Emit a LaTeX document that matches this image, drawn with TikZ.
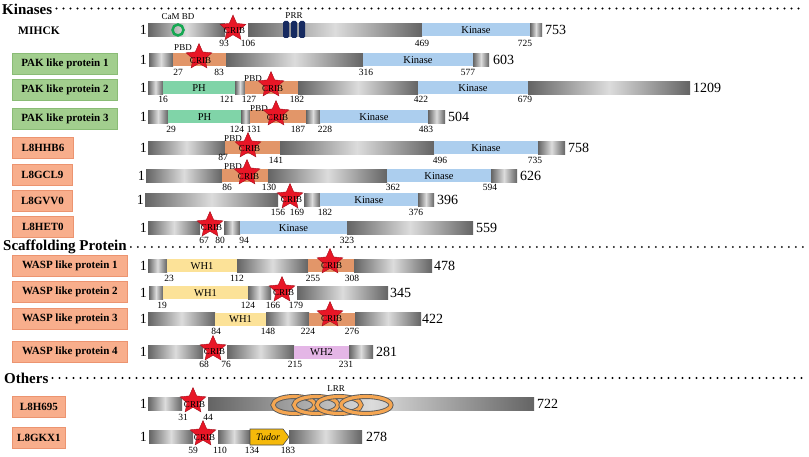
\documentclass[tikz,border=0pt]{standalone}
\usepackage{fontspec}
\setmainfont{Liberation Serif}
\usetikzlibrary{shapes.geometric}

\definecolor{bardark}{RGB}{100,100,100}
\definecolor{barlight}{RGB}{220,220,220}
\definecolor{kinblue}{RGB}{172,206,238}
\definecolor{pbdorange}{RGB}{226,150,105}
\definecolor{phgreen}{RGB}{128,212,168}
\definecolor{whyellow}{RGB}{252,226,152}
\definecolor{whpink}{RGB}{228,182,230}
\definecolor{tudoryellow}{RGB}{245,185,10}
\definecolor{prrnavy}{RGB}{22,42,96}
\definecolor{camgreen}{RGB}{22,168,82}
\definecolor{starred}{RGB}{232,22,38}
\definecolor{lrrorange}{RGB}{245,166,82}
\definecolor{pakgreen}{RGB}{162,206,142}
\definecolor{pakedge}{RGB}{138,188,118}
\definecolor{l8orange}{RGB}{248,174,140}
\definecolor{l8edge}{RGB}{236,148,112}

\tikzset{
  greyseg/.style={left color=bardark, right color=bardark, middle color=barlight},
  kinfill/.style={fill=kinblue},
  pbdfill/.style={fill=pbdorange},
  phfill/.style={fill=phgreen},
  whonefill/.style={fill=whyellow},
  whtwofill/.style={fill=whpink},
  domtxt/.style={inner sep=0pt, font=\fontsize{10.5}{12}\selectfont},
  domlab/.style={inner sep=0pt, font=\fontsize{9}{11}\selectfont},
  aanum/.style={inner sep=0pt, font=\fontsize{9.5}{11}\selectfont},
  endnum/.style={inner sep=0pt, font=\fontsize{14}{16}\selectfont},
  hdr/.style={inner sep=0pt, font=\bfseries\fontsize{15}{18}\selectfont},
  hdrdots/.style={line width=2.2pt, line cap=round, dash pattern=on 0pt off 7pt},
  protbox/.style={anchor=west, minimum height=21pt, inner sep=0pt, line width=0.8pt,
    font=\bfseries\fontsize{11}{13}\selectfont},
  pakbox/.style={protbox, fill=pakgreen, draw=pakedge, minimum width=105pt},
  l8box/.style={protbox, fill=l8orange, draw=l8edge},
  cribstar/.style={star, star points=5, star point ratio=2.15, minimum size=27pt,
    inner sep=0pt, fill=starred, draw=starred!70!black, line width=0.4pt},
  cribtxt/.style={inner sep=0pt, font=\fontsize{9}{11}\selectfont},
  camring/.style={draw=camgreen, line width=2.5pt},
  prr/.style={fill=prrnavy, rounded corners=1.5pt},
  lrrout/.style={draw=black!65, line width=5pt},
  lrrin/.style={draw=lrrorange, line width=3.2pt},
  tudorbox/.style={fill=tudoryellow, draw=black!70, line width=0.6pt},
}

% grey piece of a bar: from, to, row
\newcommand{\gseg}[3]{\shade[greyseg] (#1,#3-6.5) rectangle (#2,#3+6.5);}
% coloured domain: style, from, to, row
\newcommand{\dbox}[4]{\fill[#1] (#2,#4-6.5) rectangle (#3,#4+6.5);}
% coloured domain with its name
\newcommand{\dseg}[6]{\dbox{#1}{#2}{#3}{#4}\node[domtxt] (#5) at ({(#2+#3)/2},#4) {#6};}
% red star with CRIB on it
\newcommand{\crib}[4]{\node[cribstar] (#1) at (#2,#3) {};
  \node[cribtxt] (#1t) at (#2+1.5,#4) {CRIB};}
% residue numbers under a bar
\newcommand{\aanums}[3]{\foreach \n/\x in {#3} \node[aanum] (#1n\n) at (\x,#2) {\n};}

\begin{document}
\begin{tikzpicture}[x=1pt, y=-1pt]
\path[use as bounding box, fill=white] (0,0) rectangle (809,457);

% Kinases
\node[hdr, anchor=base west] (kinhdr) at (2,15) {Kinases};
\coordinate (kinend) at (805,8.5);
\draw[hdrdots, shorten <=4pt] (kinhdr.east |- kinend) -- (kinend);

% MIHCK
\node[inner sep=0pt, font=\bfseries\fontsize{11.5}{13}\selectfont] (mihck) at (39,31) {MIHCK};
\node[endnum, anchor=east] (mihcks) at (147,30) {1};
\gseg{148}{225}{30}
\gseg{248}{422}{30}
\dseg{kinfill}{422}{530}{30}{mihckk}{Kinase}
\gseg{530}{542}{30}
\draw[camring] (178,30) circle (5.5pt);
\node[domlab] (cam) at (178,17) {CaM BD};
\foreach \i in {0,1,2} \fill[prr] ({283+8*\i},21) rectangle ({289+8*\i},38);
\node[domlab] (prrlab) at (294,16) {PRR};
\crib{st1}{233}{28.5}{31}
\aanums{mihck}{43}{93/224,106/248,469/422,725/525}
\node[endnum, anchor=west] (mihcklen) at (545,30) {753};

% PAK like protein 1
\node[pakbox] (pak1) at (12,63.5) {PAK like protein 1};
\node[endnum, anchor=east] (pak1s) at (147,60) {1};
\gseg{149}{173}{60}
\dbox{pbdfill}{173}{226}{60}
\gseg{226}{363}{60}
\dseg{kinfill}{363}{473}{60}{pak1k}{Kinase}
\gseg{473}{489}{60}
\node[domlab] (pak1pbd) at (183,48) {PBD};
\crib{st2}{199}{57}{61}
\aanums{pak1}{72}{27/178,83/219,316/366,577/468}
\node[endnum, anchor=west] (pak1len) at (493,60) {603};

% PAK like protein 2
\node[pakbox] (pak2) at (12,89.5) {PAK like protein 2};
\node[endnum, anchor=east] (pak2s) at (147,88) {1};
\gseg{148}{163}{88}
\dseg{phfill}{163}{235}{88}{pak2ph}{PH}
\gseg{235}{245}{88}
\dbox{pbdfill}{245}{298}{88}
\gseg{298}{418}{88}
\dseg{kinfill}{418}{528}{88}{pak2k}{Kinase}
\gseg{528}{690}{88}
\node[domlab] (pak2pbd) at (253,79) {PBD};
\crib{st3}{271}{85}{89}
\aanums{pak2}{99}{16/163,121/227,127/249,182/297,422/421,679/525}
\node[endnum, anchor=west] (pak2len) at (693,88) {1209};

% PAK like protein 3
\node[pakbox] (pak3) at (12,118.5) {PAK like protein 3};
\node[endnum, anchor=east] (pak3s) at (147,117) {1};
\gseg{148}{168}{117}
\dseg{phfill}{168}{241}{117}{pak3ph}{PH}
\gseg{241}{250}{117}
\dbox{pbdfill}{250}{306}{117}
\gseg{306}{320}{117}
\dseg{kinfill}{320}{428}{117}{pak3k}{Kinase}
\gseg{428}{445}{117}
\node[domlab] (pak3pbd) at (259,108.5) {PBD};
\crib{st4}{276}{114}{118}
\aanums{pak3}{129}{29/171,124/237,131/254,187/298,228/325,483/426}
\node[endnum, anchor=west] (pak3len) at (448,117) {504};

% L8HHB6
\node[l8box, minimum width=61pt] (hhb6) at (12,147.5) {L8HHB6};
\node[endnum, anchor=east] (hhb6s) at (147,148) {1};
\gseg{148}{225}{148}
\dbox{pbdfill}{225}{280}{148}
\gseg{280}{434}{148}
\dseg{kinfill}{434}{538}{148}{hhb6k}{Kinase}
\gseg{538}{565}{148}
\node[domlab] (hhb6pbd) at (233,139) {PBD};
\crib{st5}{248}{146}{149}
\aanums{hhb6}{157.5}{87/223}
\aanums{hhb6}{160}{141/276,496/440,735/535}
\node[endnum, anchor=west] (hhb6len) at (568,148) {758};

% L8GCL9
\node[l8box, minimum width=60pt] (gcl9) at (12,175) {L8GCL9};
\node[endnum, anchor=east] (gcl9s) at (145,176) {1};
\gseg{146}{222}{176}
\dbox{pbdfill}{222}{268}{176}
\gseg{268}{387}{176}
\dseg{kinfill}{387}{491}{176}{gcl9k}{Kinase}
\gseg{491}{517}{176}
\node[domlab] (gcl9pbd) at (233,167) {PBD};
\crib{st6}{247}{173}{177}
\aanums{gcl9}{187}{86/227,130/269,362/393,594/490}
\node[endnum, anchor=west] (gcl9len) at (520,176) {626};

% L8GVV0
\node[l8box, minimum width=60pt] (gvv0) at (12,200.5) {L8GVV0};
\node[endnum, anchor=east] (gvv0s) at (144,200) {1};
\gseg{145}{278}{200}
\gseg{304}{320}{200}
\dseg{kinfill}{320}{418}{200}{gvv0k}{Kinase}
\gseg{418}{434}{200}
\crib{st7}{290}{197}{200}
\aanums{gvv0}{212}{156/278,169/297,182/325,376/416}
\node[endnum, anchor=west] (gvv0len) at (437,200) {396};

% L8HET0
\node[l8box, minimum width=61pt] (het0) at (12,227) {L8HET0};
\node[endnum, anchor=east] (het0s) at (147,228) {1};
\gseg{148}{200}{228}
\gseg{224}{240}{228}
\dseg{kinfill}{240}{347}{228}{het0k}{Kinase}
\gseg{347}{473}{228}
\crib{st8}{210}{225}{228}
\aanums{het0}{240}{67/204,80/220,94/244,323/347}
\node[endnum, anchor=west] (het0len) at (476,228) {559};

% Scaffolding Protein
\node[hdr, anchor=base west] (scafhdr) at (3,251) {Scaffolding Protein};
\coordinate (scafend) at (805,247);
\draw[hdrdots, shorten <=4pt] (scafhdr.east |- scafend) -- (scafend);

% WASP like protein 1
\node[l8box, minimum width=115pt] (wasp1) at (12,266) {WASP like protein 1};
\node[endnum, anchor=east] (wasp1s) at (147,266) {1};
\gseg{148}{167}{266}
\dseg{whonefill}{167}{237}{266}{wasp1w}{WH1}
\gseg{237}{308}{266}
\dbox{pbdfill}{308}{354}{266}
\gseg{354}{432}{266}
\crib{st9}{330}{262}{266}
\aanums{wasp1}{278}{23/169,112/237,255/313,308/352}
\node[endnum, anchor=west] (wasp1len) at (434,266) {478};

% WASP like protein 2
\node[l8box, minimum width=115pt] (wasp2) at (12,292) {WASP like protein 2};
\node[endnum, anchor=east] (wasp2s) at (147,293) {1};
\gseg{149}{163}{293}
\dseg{whonefill}{163}{248}{293}{wasp2w}{WH1}
\gseg{248}{271}{293}
\gseg{297}{388}{293}
\crib{st10}{282}{290}{293}
\aanums{wasp2}{305}{19/162,124/248,166/273,179/296}
\node[endnum, anchor=west] (wasp2len) at (390,293) {345};

% WASP like protein 3
\node[l8box, minimum width=115pt] (wasp3) at (12,319) {WASP like protein 3};
\node[endnum, anchor=east] (wasp3s) at (147,319) {1};
\gseg{148}{215}{319}
\dseg{whonefill}{215}{266}{319}{wasp3w}{WH1}
\gseg{266}{309}{319}
\dbox{pbdfill}{309}{355}{319}
\gseg{355}{421}{319}
\crib{st11}{330}{315}{319}
\aanums{wasp3}{331}{84/216,148/268,224/308,276/352}
\node[endnum, anchor=west] (wasp3len) at (422,319) {422};

% WASP like protein 4
\node[l8box, minimum width=115pt] (wasp4) at (12,352) {WASP like protein 4};
\node[endnum, anchor=east] (wasp4s) at (147,352) {1};
\gseg{148}{203}{352}
\gseg{227}{294}{352}
\dseg{whtwofill}{294}{349}{352}{wasp4w}{WH2}
\gseg{349}{373}{352}
\crib{st12}{213}{349}{352}
\aanums{wasp4}{364}{68/204,76/226,215/295,231/346}
\node[endnum, anchor=west] (wasp4len) at (376,352) {281};

% Others
\node[hdr, anchor=base west] (othhdr) at (4,383) {Others};
\coordinate (othend) at (805,378);
\draw[hdrdots, shorten <=4pt] (othhdr.east |- othend) -- (othend);

% L8H695
\node[l8box, minimum width=53pt] (h695) at (12,407) {L8H695};
\node[endnum, anchor=east] (h695s) at (147,404) {1};
\gseg{148}{182}{404}
\gseg{208}{534}{404}
\foreach \c/\r in {294/21,316/22,339/22,366/25} {
  \draw[lrrout] (\c,405) ellipse [x radius=\r*1pt, y radius=8.5pt];
  \draw[lrrin] (\c,405) ellipse [x radius=\r*1pt, y radius=8.5pt];
}
\node[domlab] (lrr) at (336,389) {LRR};
\crib{st13}{193}{401}{405}
\aanums{h695}{417}{31/183,44/208}
\node[endnum, anchor=west] (h695len) at (537,404) {722};

% L8GKX1
\node[l8box, minimum width=53pt] (gkx1) at (12,437.5) {L8GKX1};
\node[endnum, anchor=east] (gkx1s) at (147,437) {1};
\gseg{149}{193}{437}
\gseg{218}{250}{437}
\filldraw[tudorbox] (250,429) -- (283,429) -- (289,437) -- (283,445) -- (250,445) -- cycle;
\node[domtxt, font=\itshape\fontsize{10}{12}\selectfont] (tudor) at (268,437) {Tudor};
\gseg{289}{362}{437}
\crib{st14}{203}{434}{438}
\aanums{gkx1}{450}{59/193,110/220,134/252,183/288}
\node[endnum, anchor=west] (gkx1len) at (366,437) {278};
\end{tikzpicture}
\end{document}
